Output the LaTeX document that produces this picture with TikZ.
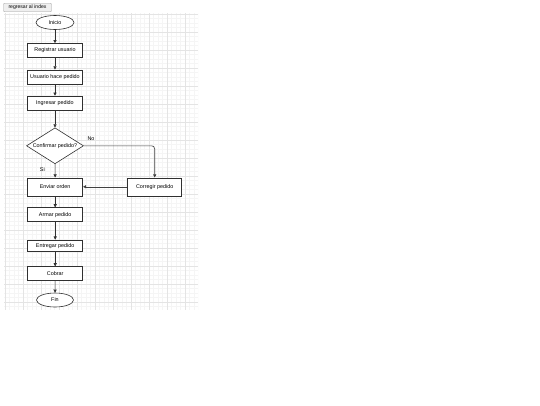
\documentclass[tikz,border=0pt]{standalone}
\usepackage{fontspec}
\setmainfont{Liberation Sans}
\usetikzlibrary{arrows.meta,shapes.geometric}
\definecolor{gridmajor}{HTML}{E4E4E4}
\definecolor{gridminor}{HTML}{F5F5F5}
\definecolor{btnfill}{HTML}{EFEFEF}
\definecolor{btnline}{HTML}{A0A0A0}
\definecolor{boxline}{HTML}{303030}
\definecolor{sideline}{HTML}{404040}
\tikzset{
  x=1pt, y=-1pt,
  every node/.style={font=\fontsize{5.4}{6.5}\selectfont, inner sep=0pt},
  procbox/.style={draw=boxline, line width=0.6pt, fill=white, minimum width=55pt, minimum height=14pt},
  termnode/.style={draw=boxline, line width=0.6pt, fill=white, ellipse, minimum width=38pt, minimum height=14pt},
  decnode/.style={draw=boxline, line width=0.6pt, fill=white, diamond, aspect=1.57, minimum width=57pt, minimum height=36pt},
  flow/.style={draw=boxline, line width=0.6pt, -{Triangle[length=3.2pt,width=3.2pt]}},
  sideflow/.style={draw=sideline, line width=0.6pt, -{Triangle[length=3.2pt,width=3.2pt]}},
  lbl/.style={font=\fontsize{5.4}{6.5}\selectfont},
}
\begin{document}
\begin{tikzpicture}
\useasboundingbox (0,0) rectangle (540,405);
\fill[white] (0,0) rectangle (540,405);
% grid
\begin{scope}
\clip (4,13) rectangle (198,310);
\foreach \k in {0,...,43} {
  \draw[gridminor, line width=0.4pt] ({5+4.5*\k},13) -- ({5+4.5*\k},310);
}
\foreach \k in {0,...,66} {
  \draw[gridminor, line width=0.4pt] (4,{14+4.5*\k}) -- (198,{14+4.5*\k});
}
\foreach \k in {0,...,10} {
  \draw[gridmajor, line width=0.5pt] ({5+18*\k},13) -- ({5+18*\k},310);
}
\foreach \k in {0,...,16} {
  \draw[gridmajor, line width=0.5pt] (4,{14+18*\k}) -- (198,{14+18*\k});
}
\end{scope}
% button
\node[draw=btnline, fill=btnfill, rounded corners=0.8pt, minimum width=48pt, minimum height=8.5pt, line width=0.4pt, font=\fontsize{5.1}{6}\selectfont] (btn) at (27.5,7.5) {regresar al index};
% nodes
\node[termnode] (inicio) at (55,22.5) {Inicio};
\node[procbox] (reg) at (55,50.5) {Registrar usuario};
\node[procbox] (usu) at (55,76.8) {Usuario hace pedido};
\node[procbox] (ing) at (55,103) {Ingresar pedido};
\node[decnode] (conf) at (55,145.8) {Confirmar pedido?};
\node[procbox, minimum height=18pt] (env) at (55.2,186.8) {Enviar orden};
\node[procbox, minimum height=18pt, minimum width=54pt] (cor) at (154.7,186.8) {Corregir pedido};
\node[procbox] (arm) at (55.2,214.7) {Armar pedido};
\node[procbox, minimum height=11.7pt] (ent) at (55.2,245.8) {Entregar pedido};
\node[procbox, minimum height=13.3pt] (cob) at (55.2,273.3) {Cobrar};
\node[termnode, minimum width=37pt] (fin) at (55,300) {Fin};
% labels
\node[lbl] (no) at (91,138.3) {No};
\node[lbl] (si) at (42.3,170) {Si};
% connectors
\draw[flow] (inicio) -- (reg);
\draw[flow] (reg) -- (usu);
\draw[flow] (usu) -- (ing);
\draw[flow] (ing) -- (conf);
\draw[flow] (conf) -- (env);
\draw[sideflow, rounded corners=3pt] (conf.east) -| (cor.north);
\draw[sideflow] (cor) -- (env);
\draw[flow] (env) -- (arm);
\draw[flow] (arm) -- (ent);
\draw[flow] (ent) -- (cob);
\draw[flow] (cob) -- (fin);
\end{tikzpicture}
\end{document}
